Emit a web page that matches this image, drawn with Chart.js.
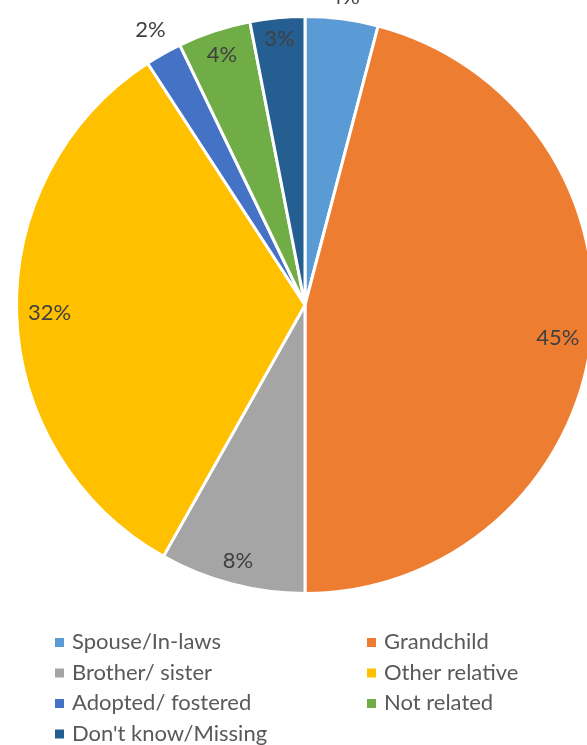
<!DOCTYPE html>
<html>
<head>
<meta charset="utf-8">
<script src="https://cdn.jsdelivr.net/npm/chart.js@4/dist/chart.umd.min.js"></script>
<style>
  html, body { margin: 0; padding: 0; background: #ffffff; overflow: hidden; }
  #wrap { width: 587px; height: 745px; overflow: hidden; position: relative; }
  #chart { position: absolute; left: 0; top: 0; }
</style>
</head>
<body>
<div id="wrap"><canvas id="chart" width="620" height="745"></canvas></div>
<script>
// Household relationship shares (percent)
const categories = ['Spouse/In-laws', 'Grandchild', 'Brother/ sister', 'Other relative',
                    'Adopted/ fostered', 'Not related', "Don't know/Missing"];
const shares = [4, 45, 8, 32, 2, 4, 3];
const sliceColors = ['#5B9BD5', '#ED7D31', '#A5A5A5', '#FFC000', '#4472C4', '#70AD47', '#255E91'];
// where each percentage label sits relative to its slice
const labelPlacement = ['outside', 'inside', 'inside', 'inside', 'outside', 'inside', 'inside'];

const FONT = 'Lato, "Open Sans", sans-serif';

// Percent labels: inside-end or outside-end, box kept clear of the rim
const sliceLabels = {
  id: 'sliceLabels',
  afterDatasetsDraw(chart) {
    const ctx = chart.ctx;
    const meta = chart.getDatasetMeta(0);
    ctx.save();
    ctx.font = '22px ' + FONT;
    ctx.fillStyle = '#404040';
    ctx.textAlign = 'center';
    ctx.textBaseline = 'middle';
    meta.data.forEach((arc, i) => {
      const p = arc.getProps(['x', 'y', 'startAngle', 'endAngle', 'outerRadius'], true);
      const mid = (p.startAngle + p.endAngle) / 2;
      const ux = Math.cos(mid), uy = Math.sin(mid);
      const text = shares[i] + '%';
      const w = ctx.measureText(text).width + 2;
      const h = 20;
      const proj = Math.abs(ux) * w / 2 + Math.abs(uy) * h / 2;
      let d;
      if (labelPlacement[i] === 'inside') {
        d = p.outerRadius - 10 - proj;
      } else {
        d = p.outerRadius + 10 + proj;
      }
      ctx.fillText(text, p.x + ux * d, p.y + uy * d);
    });
    ctx.restore();
  }
};

// Two-column legend below the pie
const gridLegend = {
  id: 'gridLegend',
  afterDraw(chart) {
    const ctx = chart.ctx;
    const items = chart.options.plugins.legend.labels.generateLabels(chart);
    const colX = [55, 367];
    const firstBaseline = 649;
    const rowStep = 30.5;
    ctx.save();
    ctx.font = '22px ' + FONT;
    ctx.textAlign = 'left';
    ctx.textBaseline = 'alphabetic';
    items.forEach((item, i) => {
      const col = i % 2;
      const row = Math.floor(i / 2);
      const base = firstBaseline + row * rowStep;
      ctx.fillStyle = item.fillStyle;
      ctx.fillRect(colX[col], base - 11, 9, 9);
      ctx.fillStyle = '#595959';
      ctx.fillText(item.text, colX[col] + 17, base);
    });
    ctx.restore();
  }
};

new Chart(document.getElementById('chart'), {
  type: 'pie',
  data: {
    labels: categories,
    datasets: [{
      data: shares,
      backgroundColor: sliceColors,
      borderColor: '#ffffff',
      borderWidth: 3
    }]
  },
  options: {
    responsive: false,
    animation: false,
    layout: { padding: { left: 15, top: 15, right: 25, bottom: 150 } },
    plugins: {
      legend: { display: false },
      tooltip: { enabled: false }
    }
  },
  plugins: [sliceLabels, gridLegend]
});
</script>
</body>
</html>
